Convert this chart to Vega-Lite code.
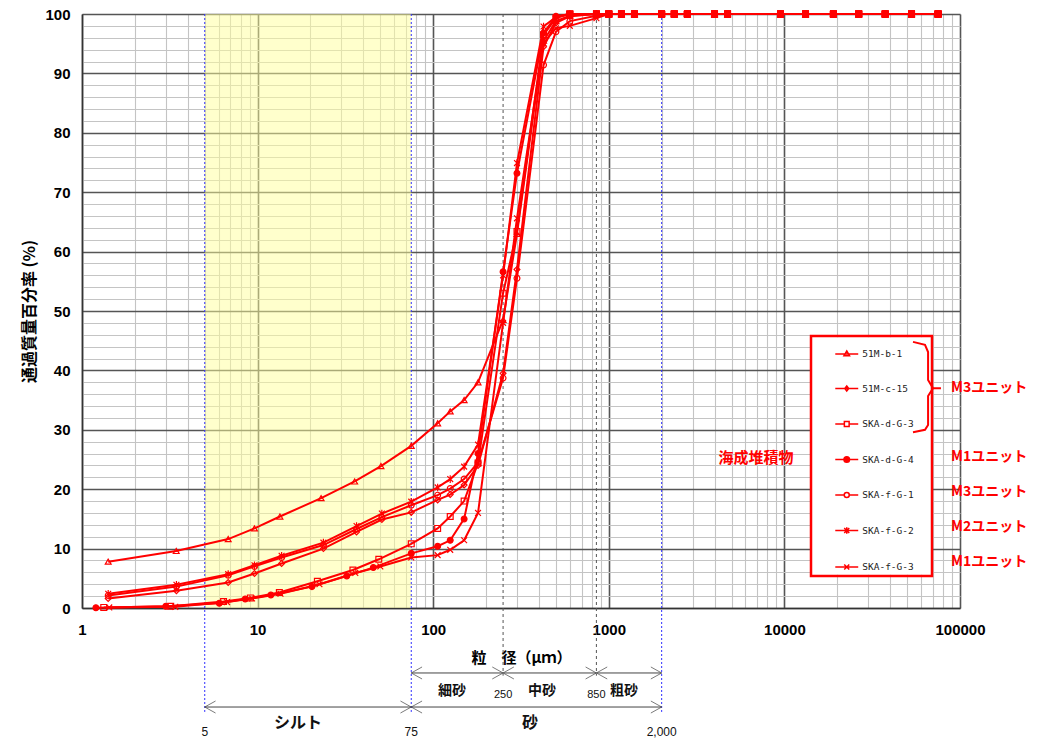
{
"$schema":"https://vega.github.io/schema/vega-lite/v6.json",
"width":878,"height":594,
"autosize":{"type":"none"},
"padding":{"left":82,"top":14,"right":81,"bottom":131},
"background":"white",
"config":{"view":{"stroke":null},"font":"Noto Sans CJK JP"},
"datasets":{
"grain":[
{"s":"51M-b-1","d":1.41,"p":7.8},{"s":"51M-b-1","d":3.44,"p":9.6},{"s":"51M-b-1","d":6.8,"p":11.6},{"s":"51M-b-1","d":9.6,"p":13.4},{"s":"51M-b-1","d":13.4,"p":15.4},{"s":"51M-b-1","d":23,"p":18.5},{"s":"51M-b-1","d":35.7,"p":21.3},{"s":"51M-b-1","d":50.4,"p":23.9},{"s":"51M-b-1","d":75,"p":27.3},{"s":"51M-b-1","d":106,"p":31.1},{"s":"51M-b-1","d":125,"p":33.1},{"s":"51M-b-1","d":150,"p":35.0},{"s":"51M-b-1","d":180,"p":38.0},{"s":"51M-b-1","d":250,"p":48.5},{"s":"51M-b-1","d":300,"p":63},{"s":"51M-b-1","d":425,"p":95.5},{"s":"51M-b-1","d":500,"p":98.8},{"s":"51M-b-1","d":600,"p":99.7},{"s":"51M-b-1","d":850,"p":100},
{"s":"51M-b-1","d":1000,"p":100},{"s":"51M-b-1","d":1180,"p":100},{"s":"51M-b-1","d":1400,"p":100},{"s":"51M-b-1","d":2000,"p":100},{"s":"51M-b-1","d":2360,"p":100},{"s":"51M-b-1","d":2800,"p":100},{"s":"51M-b-1","d":4000,"p":100},{"s":"51M-b-1","d":4750,"p":100},{"s":"51M-b-1","d":9500,"p":100},{"s":"51M-b-1","d":13200,"p":100},{"s":"51M-b-1","d":19000,"p":100},{"s":"51M-b-1","d":26500,"p":100},{"s":"51M-b-1","d":37500,"p":100},{"s":"51M-b-1","d":53000,"p":100},{"s":"51M-b-1","d":75000,"p":100},
{"s":"51M-c-15","d":1.41,"p":1.6},{"s":"51M-c-15","d":3.45,"p":2.9},{"s":"51M-c-15","d":6.8,"p":4.3},{"s":"51M-c-15","d":9.6,"p":5.8},{"s":"51M-c-15","d":13.7,"p":7.5},{"s":"51M-c-15","d":23.7,"p":10.0},{"s":"51M-c-15","d":36.6,"p":12.8},{"s":"51M-c-15","d":51,"p":14.9},{"s":"51M-c-15","d":75,"p":16.1},{"s":"51M-c-15","d":106,"p":18.2},{"s":"51M-c-15","d":125,"p":19.1},{"s":"51M-c-15","d":150,"p":20.7},{"s":"51M-c-15","d":180,"p":24.0},{"s":"51M-c-15","d":250,"p":39.5},{"s":"51M-c-15","d":300,"p":57},{"s":"51M-c-15","d":425,"p":94.5},{"s":"51M-c-15","d":500,"p":98.5},{"s":"51M-c-15","d":600,"p":99.6},{"s":"51M-c-15","d":850,"p":100},
{"s":"51M-c-15","d":1000,"p":100},{"s":"51M-c-15","d":1180,"p":100},{"s":"51M-c-15","d":1400,"p":100},{"s":"51M-c-15","d":2000,"p":100},{"s":"51M-c-15","d":2360,"p":100},{"s":"51M-c-15","d":2800,"p":100},{"s":"51M-c-15","d":4000,"p":100},{"s":"51M-c-15","d":4750,"p":100},{"s":"51M-c-15","d":9500,"p":100},{"s":"51M-c-15","d":13200,"p":100},{"s":"51M-c-15","d":19000,"p":100},{"s":"51M-c-15","d":26500,"p":100},{"s":"51M-c-15","d":37500,"p":100},{"s":"51M-c-15","d":53000,"p":100},{"s":"51M-c-15","d":75000,"p":100},
{"s":"SKA-d-G-3","d":1.33,"p":0.1},{"s":"SKA-d-G-3","d":3.2,"p":0.3},{"s":"SKA-d-G-3","d":6.4,"p":1.1},{"s":"SKA-d-G-3","d":9.1,"p":1.7},{"s":"SKA-d-G-3","d":13.3,"p":2.6},{"s":"SKA-d-G-3","d":21.9,"p":4.5},{"s":"SKA-d-G-3","d":34.9,"p":6.4},{"s":"SKA-d-G-3","d":49,"p":8.2},{"s":"SKA-d-G-3","d":75,"p":10.8},{"s":"SKA-d-G-3","d":106,"p":13.4},{"s":"SKA-d-G-3","d":125,"p":15.4},{"s":"SKA-d-G-3","d":150,"p":18.0},{"s":"SKA-d-G-3","d":180,"p":24.4},{"s":"SKA-d-G-3","d":250,"p":53},{"s":"SKA-d-G-3","d":300,"p":63.4},{"s":"SKA-d-G-3","d":425,"p":96.5},{"s":"SKA-d-G-3","d":500,"p":99.3},{"s":"SKA-d-G-3","d":600,"p":100},{"s":"SKA-d-G-3","d":850,"p":100},
{"s":"SKA-d-G-3","d":1000,"p":100},{"s":"SKA-d-G-3","d":1180,"p":100},{"s":"SKA-d-G-3","d":1400,"p":100},{"s":"SKA-d-G-3","d":2000,"p":100},{"s":"SKA-d-G-3","d":2360,"p":100},{"s":"SKA-d-G-3","d":2800,"p":100},{"s":"SKA-d-G-3","d":4000,"p":100},{"s":"SKA-d-G-3","d":4750,"p":100},{"s":"SKA-d-G-3","d":9500,"p":100},{"s":"SKA-d-G-3","d":13200,"p":100},{"s":"SKA-d-G-3","d":19000,"p":100},{"s":"SKA-d-G-3","d":26500,"p":100},{"s":"SKA-d-G-3","d":37500,"p":100},{"s":"SKA-d-G-3","d":53000,"p":100},{"s":"SKA-d-G-3","d":75000,"p":100},
{"s":"SKA-d-G-4","d":1.2,"p":0.05},{"s":"SKA-d-G-4","d":3.0,"p":0.3},{"s":"SKA-d-G-4","d":6.05,"p":0.8},{"s":"SKA-d-G-4","d":8.5,"p":1.5},{"s":"SKA-d-G-4","d":11.9,"p":2.2},{"s":"SKA-d-G-4","d":20.4,"p":3.6},{"s":"SKA-d-G-4","d":32.2,"p":5.4},{"s":"SKA-d-G-4","d":45.6,"p":6.8},{"s":"SKA-d-G-4","d":75,"p":9.2},{"s":"SKA-d-G-4","d":106,"p":10.4},{"s":"SKA-d-G-4","d":125,"p":11.4},{"s":"SKA-d-G-4","d":150,"p":15.0},{"s":"SKA-d-G-4","d":180,"p":26},{"s":"SKA-d-G-4","d":250,"p":56.6},{"s":"SKA-d-G-4","d":300,"p":73.2},{"s":"SKA-d-G-4","d":425,"p":96.8},{"s":"SKA-d-G-4","d":500,"p":99.6},{"s":"SKA-d-G-4","d":600,"p":100},{"s":"SKA-d-G-4","d":850,"p":100},
{"s":"SKA-d-G-4","d":1000,"p":100},{"s":"SKA-d-G-4","d":1180,"p":100},{"s":"SKA-d-G-4","d":1400,"p":100},{"s":"SKA-d-G-4","d":2000,"p":100},{"s":"SKA-d-G-4","d":2360,"p":100},{"s":"SKA-d-G-4","d":2800,"p":100},{"s":"SKA-d-G-4","d":4000,"p":100},{"s":"SKA-d-G-4","d":4750,"p":100},{"s":"SKA-d-G-4","d":9500,"p":100},{"s":"SKA-d-G-4","d":13200,"p":100},{"s":"SKA-d-G-4","d":19000,"p":100},{"s":"SKA-d-G-4","d":26500,"p":100},{"s":"SKA-d-G-4","d":37500,"p":100},{"s":"SKA-d-G-4","d":53000,"p":100},{"s":"SKA-d-G-4","d":75000,"p":100},
{"s":"SKA-f-G-1","d":1.41,"p":2.1},{"s":"SKA-f-G-1","d":3.45,"p":3.6},{"s":"SKA-f-G-1","d":6.8,"p":5.5},{"s":"SKA-f-G-1","d":9.6,"p":7.0},{"s":"SKA-f-G-1","d":13.7,"p":8.5},{"s":"SKA-f-G-1","d":23.7,"p":10.6},{"s":"SKA-f-G-1","d":36.6,"p":13.3},{"s":"SKA-f-G-1","d":51,"p":15.3},{"s":"SKA-f-G-1","d":75,"p":17.3},{"s":"SKA-f-G-1","d":106,"p":19.0},{"s":"SKA-f-G-1","d":125,"p":20.1},{"s":"SKA-f-G-1","d":150,"p":21.7},{"s":"SKA-f-G-1","d":180,"p":24.5},{"s":"SKA-f-G-1","d":250,"p":38.7},{"s":"SKA-f-G-1","d":300,"p":55.5},{"s":"SKA-f-G-1","d":425,"p":91.4},{"s":"SKA-f-G-1","d":500,"p":97},{"s":"SKA-f-G-1","d":600,"p":98.8},{"s":"SKA-f-G-1","d":850,"p":99.7},
{"s":"SKA-f-G-1","d":1000,"p":100},{"s":"SKA-f-G-1","d":1180,"p":100},{"s":"SKA-f-G-1","d":1400,"p":100},{"s":"SKA-f-G-1","d":2000,"p":100},{"s":"SKA-f-G-1","d":2360,"p":100},{"s":"SKA-f-G-1","d":2800,"p":100},{"s":"SKA-f-G-1","d":4000,"p":100},{"s":"SKA-f-G-1","d":4750,"p":100},{"s":"SKA-f-G-1","d":9500,"p":100},{"s":"SKA-f-G-1","d":13200,"p":100},{"s":"SKA-f-G-1","d":19000,"p":100},{"s":"SKA-f-G-1","d":26500,"p":100},{"s":"SKA-f-G-1","d":37500,"p":100},{"s":"SKA-f-G-1","d":53000,"p":100},{"s":"SKA-f-G-1","d":75000,"p":100},
{"s":"SKA-f-G-2","d":1.41,"p":2.4},{"s":"SKA-f-G-2","d":3.45,"p":3.9},{"s":"SKA-f-G-2","d":6.8,"p":5.7},{"s":"SKA-f-G-2","d":9.6,"p":7.2},{"s":"SKA-f-G-2","d":13.7,"p":8.8},{"s":"SKA-f-G-2","d":23.7,"p":11.0},{"s":"SKA-f-G-2","d":36.6,"p":13.8},{"s":"SKA-f-G-2","d":51,"p":15.9},{"s":"SKA-f-G-2","d":75,"p":17.9},{"s":"SKA-f-G-2","d":106,"p":20.3},{"s":"SKA-f-G-2","d":125,"p":21.7},{"s":"SKA-f-G-2","d":150,"p":23.8},{"s":"SKA-f-G-2","d":180,"p":27.5},{"s":"SKA-f-G-2","d":250,"p":56},{"s":"SKA-f-G-2","d":300,"p":74.9},{"s":"SKA-f-G-2","d":425,"p":97.9},{"s":"SKA-f-G-2","d":500,"p":99.5},{"s":"SKA-f-G-2","d":600,"p":100},{"s":"SKA-f-G-2","d":850,"p":100},
{"s":"SKA-f-G-2","d":1000,"p":100},{"s":"SKA-f-G-2","d":1180,"p":100},{"s":"SKA-f-G-2","d":1400,"p":100},{"s":"SKA-f-G-2","d":2000,"p":100},{"s":"SKA-f-G-2","d":2360,"p":100},{"s":"SKA-f-G-2","d":2800,"p":100},{"s":"SKA-f-G-2","d":4000,"p":100},{"s":"SKA-f-G-2","d":4750,"p":100},{"s":"SKA-f-G-2","d":9500,"p":100},{"s":"SKA-f-G-2","d":13200,"p":100},{"s":"SKA-f-G-2","d":19000,"p":100},{"s":"SKA-f-G-2","d":26500,"p":100},{"s":"SKA-f-G-2","d":37500,"p":100},{"s":"SKA-f-G-2","d":53000,"p":100},{"s":"SKA-f-G-2","d":75000,"p":100},
{"s":"SKA-f-G-3","d":1.43,"p":0.1},{"s":"SKA-f-G-3","d":3.4,"p":0.2},{"s":"SKA-f-G-3","d":6.7,"p":1.0},{"s":"SKA-f-G-3","d":9.3,"p":1.6},{"s":"SKA-f-G-3","d":13.5,"p":2.4},{"s":"SKA-f-G-3","d":22.5,"p":4.0},{"s":"SKA-f-G-3","d":36,"p":5.9},{"s":"SKA-f-G-3","d":50,"p":7.0},{"s":"SKA-f-G-3","d":75,"p":8.5},{"s":"SKA-f-G-3","d":106,"p":8.9},{"s":"SKA-f-G-3","d":125,"p":9.8},{"s":"SKA-f-G-3","d":150,"p":11.4},{"s":"SKA-f-G-3","d":180,"p":16.0},{"s":"SKA-f-G-3","d":250,"p":48},{"s":"SKA-f-G-3","d":300,"p":65.6},{"s":"SKA-f-G-3","d":425,"p":95.1},{"s":"SKA-f-G-3","d":500,"p":97.6},{"s":"SKA-f-G-3","d":600,"p":98.0},{"s":"SKA-f-G-3","d":850,"p":99.3},
{"s":"SKA-f-G-3","d":1000,"p":100},{"s":"SKA-f-G-3","d":1180,"p":100},{"s":"SKA-f-G-3","d":1400,"p":100},{"s":"SKA-f-G-3","d":2000,"p":100},{"s":"SKA-f-G-3","d":2360,"p":100},{"s":"SKA-f-G-3","d":2800,"p":100},{"s":"SKA-f-G-3","d":4000,"p":100},{"s":"SKA-f-G-3","d":4750,"p":100},{"s":"SKA-f-G-3","d":9500,"p":100},{"s":"SKA-f-G-3","d":13200,"p":100},{"s":"SKA-f-G-3","d":19000,"p":100},{"s":"SKA-f-G-3","d":26500,"p":100},{"s":"SKA-f-G-3","d":37500,"p":100},{"s":"SKA-f-G-3","d":53000,"p":100},{"s":"SKA-f-G-3","d":75000,"p":100}
],
"brace":[
{"o":1,"d":54000,"p":44.8},{"o":2,"d":63200,"p":44.3},{"o":3,"d":65800,"p":43.1},{"o":4,"d":65800,"p":38.4},{"o":5,"d":70200,"p":37.0},{"o":6,"d":77900,"p":37.0},{"o":7,"d":70200,"p":37.0},{"o":8,"d":65800,"p":35.7},{"o":9,"d":65800,"p":30.8},{"o":10,"d":63200,"p":30.0},{"o":11,"d":54000,"p":29.6}
]
},
"layer":[
{"data":{"values":[{"a":5,"b":75}]},
 "mark":{"type":"rect","fill":"#ffff99","opacity":0.5},
 "encoding":{"x":{"field":"a","type":"quantitative","scale":{"type":"log","domain":[1,100000]}},"x2":{"field":"b"},
  "y":{"datum":0,"type":"quantitative","scale":{"domain":[0,100]}},"y2":{"datum":100}}},
{"data":{"values":[{"d":5},{"d":75},{"d":2000}]},
 "mark":{"type":"rule","stroke":"#3030ff","strokeWidth":1,"strokeDash":[2,2]},
 "encoding":{"x":{"field":"d","type":"quantitative","scale":{"type":"log","domain":[1,100000]}},
  "y":{"datum":100,"type":"quantitative","scale":{"domain":[0,100]}},"y2":{"datum":-17.5}}},
{"data":{"values":[{"d":250},{"d":850}]},
 "mark":{"type":"rule","stroke":"#555555","strokeWidth":1,"strokeDash":[3,3]},
 "encoding":{"x":{"field":"d","type":"quantitative","scale":{"type":"log","domain":[1,100000]}},
  "y":{"datum":100,"type":"quantitative","scale":{"domain":[0,100]}},"y2":{"datum":-11.4}}},
{"data":{"values":[{"a":75,"b":250},{"a":250,"b":850},{"a":850,"b":2000}]},
 "layer":[
  {"mark":{"type":"rule","stroke":"#444444","strokeWidth":1},
   "encoding":{"x":{"field":"a","type":"quantitative","scale":{"type":"log","domain":[1,100000]}},"x2":{"field":"b"},"y":{"datum":-10.94,"type":"quantitative","scale":{"domain":[0,100]}}}},
  {"mark":{"type":"point","shape":"M1.8,-1L0,0L1.8,1","size":144,"stroke":"#444444","strokeWidth":1,"filled":false},
   "encoding":{"x":{"field":"a","type":"quantitative","scale":{"type":"log","domain":[1,100000]}},"y":{"datum":-10.94,"type":"quantitative","scale":{"domain":[0,100]}}}},
  {"mark":{"type":"point","shape":"M-1.8,-1L0,0L-1.8,1","size":144,"stroke":"#444444","strokeWidth":1,"filled":false},
   "encoding":{"x":{"field":"b","type":"quantitative","scale":{"type":"log","domain":[1,100000]}},"y":{"datum":-10.94,"type":"quantitative","scale":{"domain":[0,100]}}}}
 ]},
{"data":{"values":[{"a":5,"b":75},{"a":75,"b":2000}]},
 "layer":[
  {"mark":{"type":"rule","stroke":"#444444","strokeWidth":1},
   "encoding":{"x":{"field":"a","type":"quantitative","scale":{"type":"log","domain":[1,100000]}},"x2":{"field":"b"},"y":{"datum":-16.67,"type":"quantitative","scale":{"domain":[0,100]}}}},
  {"mark":{"type":"point","shape":"M1.8,-1L0,0L1.8,1","size":144,"stroke":"#444444","strokeWidth":1,"filled":false},
   "encoding":{"x":{"field":"a","type":"quantitative","scale":{"type":"log","domain":[1,100000]}},"y":{"datum":-16.67,"type":"quantitative","scale":{"domain":[0,100]}}}},
  {"mark":{"type":"point","shape":"M-1.8,-1L0,0L-1.8,1","size":144,"stroke":"#444444","strokeWidth":1,"filled":false},
   "encoding":{"x":{"field":"b","type":"quantitative","scale":{"type":"log","domain":[1,100000]}},"y":{"datum":-16.67,"type":"quantitative","scale":{"domain":[0,100]}}}}
 ]},
{"data":{"name":"grain"},
 "mark":{"type":"line","stroke":"#ff0000","strokeWidth":2},
 "encoding":{
  "x":{"field":"d","type":"quantitative","scale":{"type":"log","domain":[1,100000]},
   "axis":{"title":"粒　径（μｍ）","values":[1,2,3,4,5,6,7,8,9,10,20,30,40,50,60,70,80,90,100,200,300,400,500,600,700,800,900,1000,2000,3000,4000,5000,6000,7000,8000,9000,10000,20000,30000,40000,50000,60000,70000,80000,90000,100000],
    "tickCount":500,
    "grid":true,
    "gridColor":{"condition":{"test":"indexof([1,10,100,1000,10000,100000],datum.value)>=0","value":"#555555"},"value":"#c4c4c4"},
    "gridWidth":{"condition":{"test":"indexof([1,10,100,1000,10000,100000],datum.value)>=0","value":1.6},"value":1.1},
    "ticks":false,"domain":true,"domainColor":"#333333","domainWidth":1.5,
    "labelExpr":"indexof([1,10,100,1000,10000,100000],datum.value)>=0 ? format(datum.value,'d') : ''",
    "labelFont":"Liberation Sans","labelFontWeight":"bold","labelFontSize":15,"labelColor":"black","labelPadding":14,
    "labelOverlap":false,"labelBound":false,"labelFlush":false,
    "titleFont":"Noto Sans CJK JP","titleFontWeight":"bold","titleFontSize":15,"titleColor":"black","titleY":49,"titleBaseline":"middle"}},
  "y":{"field":"p","type":"quantitative","scale":{"domain":[0,100]},
   "axis":{"title":"通過質量百分率 (%)","values":[0,2,4,6,8,10,12,14,16,18,20,22,24,26,28,30,32,34,36,38,40,42,44,46,48,50,52,54,56,58,60,62,64,66,68,70,72,74,76,78,80,82,84,86,88,90,92,94,96,98,100],
    "tickCount":500,
    "grid":true,
    "gridColor":{"condition":{"test":"indexof([0,10,20,30,40,50,60,70,80,90,100],datum.value)>=0","value":"#555555"},"value":"#c4c4c4"},
    "gridWidth":{"condition":{"test":"indexof([0,10,20,30,40,50,60,70,80,90,100],datum.value)>=0","value":1.6},"value":1.1},
    "ticks":false,"domain":true,"domainColor":"#333333","domainWidth":1.5,
    "labelExpr":"indexof([0,10,20,30,40,50,60,70,80,90,100],datum.value)>=0 ? format(datum.value,'d') : ''",
    "labelFont":"Liberation Sans","labelFontWeight":"bold","labelFontSize":15,"labelColor":"black","labelPadding":12,
    "labelOverlap":false,"labelBound":false,"labelFlush":false,
    "titleFont":"Noto Sans CJK JP","titleFontWeight":"bold","titleFontSize":16,"titleColor":"black","titleX":-45,"titleY":297}},
  "detail":{"field":"s","type":"nominal"}}},
{"data":{"name":"grain"},
 "mark":{"type":"point","stroke":"#ff0000","strokeWidth":1.2,"size":34,"opacity":1},
 "encoding":{
  "x":{"field":"d","type":"quantitative","scale":{"type":"log","domain":[1,100000]}},
  "y":{"field":"p","type":"quantitative","scale":{"domain":[0,100]}},
  "shape":{"field":"s","type":"nominal","scale":{"domain":["51M-b-1","51M-c-15","SKA-d-G-3","SKA-d-G-4","SKA-f-G-1","SKA-f-G-2","SKA-f-G-3"],"range":["triangle-up","diamond","square","circle","circle","M-1,-1L1,1M-1,1L1,-1M0,-1.3V1.3","M-1,-1L1,1M-1,1L1,-1"]},"legend":null},
  "fill":{"field":"s","type":"nominal","scale":{"domain":["51M-b-1","51M-c-15","SKA-d-G-3","SKA-d-G-4","SKA-f-G-1","SKA-f-G-2","SKA-f-G-3"],"range":["transparent","transparent","transparent","#ff0000","transparent","transparent","transparent"]},"legend":null}}},
{"data":{"name":"grain"},
 "transform":[{"filter":"datum.p >= 100 && datum.d >= 600"}],
 "mark":{"type":"point","shape":"square","filled":true,"color":"#ff0000","size":46,"opacity":1},
 "encoding":{
  "x":{"field":"d","type":"quantitative","scale":{"type":"log","domain":[1,100000]}},
  "y":{"field":"p","type":"quantitative","scale":{"domain":[0,100]}}}},
{"data":{"values":[{"a":14360,"b":68390}]},
 "mark":{"type":"rect","fill":"white"},
 "encoding":{"x":{"field":"a","type":"quantitative","scale":{"type":"log","domain":[1,100000]}},"x2":{"field":"b"},
  "y":{"datum":45.6,"type":"quantitative","scale":{"domain":[0,100]}},"y2":{"datum":5.6}}},
{"data":{"name":"grain"},
 "mark":{"type":"point","stroke":"#ff0000","opacity":0},
 "encoding":{
  "x":{"field":"d","type":"quantitative","scale":{"type":"log","domain":[1,100000]}},
  "y":{"field":"p","type":"quantitative","scale":{"domain":[0,100]}},
  "shape":{"field":"s","type":"nominal","scale":{"domain":["51M-b-1","51M-c-15","SKA-d-G-3","SKA-d-G-4","SKA-f-G-1","SKA-f-G-2","SKA-f-G-3"],
   "range":["M-0.82,0H0.82M0,-0.22L0.2,0.13H-0.2Z","M-0.82,0H0.82M0,-0.18L0.14,0L0,0.18L-0.14,0Z","M-0.82,0H-0.17M0.17,0H0.82M-0.17,-0.17H0.17V0.17H-0.17Z","M-0.82,0H0.82M0.2,0A0.2,0.2,0,1,1,-0.2,0A0.2,0.2,0,1,1,0.2,0Z","M-0.82,0H-0.18M0.18,0H0.82M0.18,0A0.18,0.18,0,1,1,-0.18,0A0.18,0.18,0,1,1,0.18,0Z","M-0.82,0H0.82M-0.18,-0.18L0.18,0.18M-0.18,0.18L0.18,-0.18M0,-0.23V0.23","M-0.82,0H0.82M-0.18,-0.18L0.18,0.18M-0.18,0.18L0.18,-0.18"]},
   "legend":{"title":" ","titleOrient":"right","titlePadding":15,"titleFontSize":10,"orient":"none","legendX":729,"legendY":322,"padding":3,"symbolSize":784,"rowPadding":14.5,"symbolOffset":17.75,"labelOffset":0.5,"labelFont":"DejaVu Sans Mono","labelFontSize":9.5,"labelColor":"#222222","strokeColor":"#ff0000","fillColor":"transparent","symbolStrokeColor":"#ff0000","symbolStrokeWidth":1.5,"symbolOpacity":1,"encode":{"legend":{"update":{"strokeWidth":{"value":2.5}}}}}},
  "fill":{"field":"s","type":"nominal","scale":{"domain":["51M-b-1","51M-c-15","SKA-d-G-3","SKA-d-G-4","SKA-f-G-1","SKA-f-G-2","SKA-f-G-3"],"range":["transparent","transparent","transparent","#ff0000","transparent","transparent","transparent"]},
   "legend":{"title":" ","titleOrient":"right","titlePadding":15,"titleFontSize":10,"orient":"none","legendX":729,"legendY":322,"padding":3,"symbolSize":784,"rowPadding":14.5,"symbolOffset":17.75,"labelOffset":0.5,"labelFont":"DejaVu Sans Mono","labelFontSize":9.5,"labelColor":"#222222","strokeColor":"#ff0000","fillColor":"transparent","symbolStrokeColor":"#ff0000","symbolStrokeWidth":1.5,"symbolOpacity":1,"encode":{"legend":{"update":{"strokeWidth":{"value":2.5}}}}}}}},
{"data":{"name":"brace"},
 "mark":{"type":"line","stroke":"#ff0000","strokeWidth":2,"interpolate":"linear"},
 "encoding":{
  "x":{"field":"d","type":"quantitative","scale":{"type":"log","domain":[1,100000]}},
  "y":{"field":"p","type":"quantitative","scale":{"domain":[0,100]}},
  "order":{"field":"o","type":"quantitative"}}},
{"data":{"values":[{"t":"海成堆積物","d":6890,"p":25.2}]},
 "mark":{"type":"text","align":"center","baseline":"middle","font":"Noto Sans CJK JP","fontWeight":"bold","fontSize":15,"fill":"#ff0000"},
 "encoding":{"x":{"field":"d","type":"quantitative","scale":{"type":"log","domain":[1,100000]}},"y":{"field":"p","type":"quantitative","scale":{"domain":[0,100]}},"text":{"field":"t"}}},
{"data":{"values":[{"t":"M3ユニット","d":88900,"p":37.0},{"t":"M1ユニット","d":88900,"p":25.4},{"t":"M3ユニット","d":88900,"p":19.5},{"t":"M2ユニット","d":88900,"p":13.6},{"t":"M1ユニット","d":88900,"p":7.7}]},
 "mark":{"type":"text","align":"left","baseline":"middle","font":"Noto Sans CJK JP","fontWeight":"bold","fontSize":14,"fill":"#ff0000"},
 "encoding":{"x":{"field":"d","type":"quantitative","scale":{"type":"log","domain":[1,100000]}},"y":{"field":"p","type":"quantitative","scale":{"domain":[0,100]}},"text":{"field":"t"}}},
{"data":{"values":[{"t":"細砂","d":128,"p":-14.0},{"t":"中砂","d":417,"p":-14.0},{"t":"粗砂","d":1222,"p":-14.0}]},
 "mark":{"type":"text","align":"center","baseline":"middle","font":"Noto Sans CJK JP","fontWeight":"bold","fontSize":14,"fill":"#111111"},
 "encoding":{"x":{"field":"d","type":"quantitative","scale":{"type":"log","domain":[1,100000]}},"y":{"field":"p","type":"quantitative","scale":{"domain":[0,100]}},"text":{"field":"t"}}},
{"data":{"values":[{"t":"シルト","d":17,"p":-19.3},{"t":"砂","d":356,"p":-19.3}]},
 "mark":{"type":"text","align":"center","baseline":"middle","font":"Noto Sans CJK JP","fontWeight":"bold","fontSize":16,"fill":"#111111"},
 "encoding":{"x":{"field":"d","type":"quantitative","scale":{"type":"log","domain":[1,100000]}},"y":{"field":"p","type":"quantitative","scale":{"domain":[0,100]}},"text":{"field":"t"}}},
{"data":{"values":[{"t":"5","d":5,"p":-20.8},{"t":"75","d":75,"p":-20.8},{"t":"2,000","d":2000,"p":-20.8}]},
 "mark":{"type":"text","align":"center","baseline":"middle","font":"Liberation Sans","fontSize":12,"fill":"#111111"},
 "encoding":{"x":{"field":"d","type":"quantitative","scale":{"type":"log","domain":[1,100000]}},"y":{"field":"p","type":"quantitative","scale":{"domain":[0,100]}},"text":{"field":"t"}}},
{"data":{"values":[{"t":"250","d":250,"p":-14.6},{"t":"850","d":850,"p":-14.6}]},
 "mark":{"type":"text","align":"center","baseline":"middle","font":"Liberation Sans","fontSize":11,"fill":"#111111"},
 "encoding":{"x":{"field":"d","type":"quantitative","scale":{"type":"log","domain":[1,100000]}},"y":{"field":"p","type":"quantitative","scale":{"domain":[0,100]}},"text":{"field":"t"}}}
],
"resolve":{"scale":{"shape":"independent","fill":"independent"}}
}
